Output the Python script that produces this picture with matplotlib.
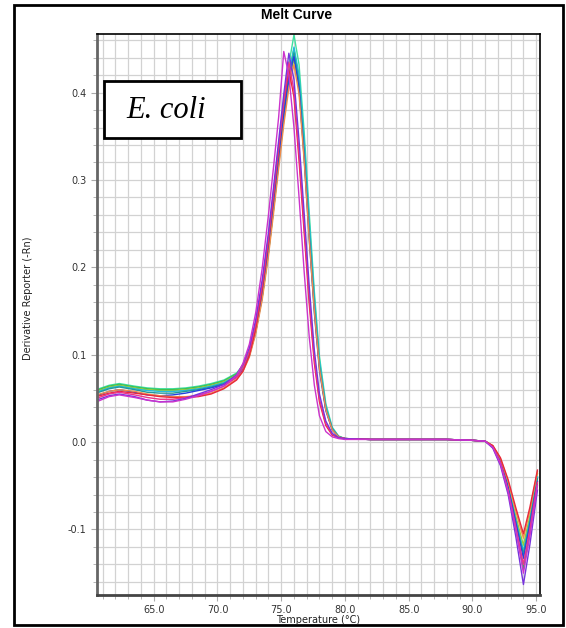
import matplotlib.pyplot as plt
from matplotlib.patches import Rectangle
import numpy as np

# Temperature points shared by all wells (deg C)
temps = [60.5, 61.5, 62.3, 63.5, 64.5, 65.5, 66.5, 67.5, 68.5, 69.5, 70.5, 71.5,
         72.0, 72.5, 73.0, 73.5, 74.0, 74.4, 74.8, 75.2, 75.6, 76.0, 76.4, 76.8,
         77.2, 77.6, 78.0, 78.5, 79.0, 79.5, 80.0, 82.0, 85.0, 88.0, 90.0, 91.0,
         91.6, 92.2, 92.8, 93.4, 94.0, 94.5, 95.1]

# Derivative reporter values, one list per well
aqua = [0.060, 0.065, 0.067, 0.064, 0.062, 0.061, 0.061, 0.062, 0.064, 0.067, 0.071, 0.079,
        0.088, 0.104, 0.132, 0.172, 0.224, 0.276, 0.330, 0.385, 0.432, 0.466, 0.432, 0.355,
        0.262, 0.172, 0.098, 0.044, 0.017, 0.007, 0.004, 0.003, 0.003, 0.003, 0.002, 0.001,
        -0.005, -0.021, -0.050, -0.088, -0.125, -0.090, -0.040]
green = [0.059, 0.064, 0.066, 0.063, 0.061, 0.060, 0.060, 0.061, 0.063, 0.066, 0.070, 0.078,
         0.087, 0.103, 0.131, 0.170, 0.222, 0.273, 0.326, 0.378, 0.423, 0.450, 0.414, 0.336,
         0.243, 0.157, 0.088, 0.039, 0.015, 0.006, 0.004, 0.003, 0.003, 0.003, 0.002, 0.001,
         -0.006, -0.024, -0.056, -0.100, -0.145, -0.103, -0.048]
ygreen = [0.058, 0.063, 0.065, 0.062, 0.060, 0.059, 0.059, 0.060, 0.062, 0.065, 0.069, 0.077,
          0.086, 0.101, 0.128, 0.166, 0.217, 0.266, 0.318, 0.368, 0.412, 0.438, 0.404, 0.328,
          0.237, 0.153, 0.086, 0.038, 0.015, 0.006, 0.004, 0.003, 0.003, 0.003, 0.002, 0.001,
          -0.005, -0.020, -0.048, -0.085, -0.118, -0.085, -0.036]
cyan = [0.057, 0.062, 0.064, 0.061, 0.059, 0.058, 0.058, 0.059, 0.061, 0.064, 0.068, 0.076,
        0.085, 0.100, 0.127, 0.166, 0.218, 0.268, 0.321, 0.373, 0.418, 0.452, 0.420, 0.345,
        0.252, 0.165, 0.093, 0.041, 0.016, 0.006, 0.004, 0.003, 0.003, 0.003, 0.002, 0.001,
        -0.005, -0.021, -0.050, -0.089, -0.125, -0.090, -0.040]
teal = [0.056, 0.061, 0.063, 0.060, 0.057, 0.056, 0.056, 0.058, 0.060, 0.063, 0.067, 0.075,
        0.084, 0.099, 0.126, 0.165, 0.217, 0.267, 0.319, 0.371, 0.416, 0.445, 0.410, 0.332,
        0.240, 0.155, 0.087, 0.038, 0.015, 0.006, 0.004, 0.003, 0.003, 0.003, 0.002, 0.001,
        -0.005, -0.022, -0.052, -0.092, -0.128, -0.092, -0.042]
blue = [0.053, 0.058, 0.060, 0.057, 0.054, 0.053, 0.054, 0.056, 0.059, 0.062, 0.066, 0.074,
        0.083, 0.099, 0.127, 0.167, 0.220, 0.270, 0.322, 0.374, 0.418, 0.441, 0.405, 0.325,
        0.232, 0.148, 0.082, 0.036, 0.014, 0.006, 0.004, 0.003, 0.003, 0.003, 0.002, 0.001,
        -0.005, -0.022, -0.052, -0.092, -0.133, -0.095, -0.045]
orange = [0.054, 0.058, 0.060, 0.058, 0.055, 0.053, 0.052, 0.052, 0.053, 0.056, 0.062, 0.072,
          0.081, 0.097, 0.124, 0.162, 0.213, 0.262, 0.313, 0.363, 0.405, 0.432, 0.398, 0.322,
          0.232, 0.150, 0.084, 0.037, 0.014, 0.006, 0.004, 0.003, 0.003, 0.003, 0.002, 0.001,
          -0.004, -0.019, -0.045, -0.079, -0.110, -0.079, -0.034]
red = [0.052, 0.056, 0.058, 0.056, 0.054, 0.052, 0.051, 0.051, 0.052, 0.055, 0.061, 0.071,
       0.081, 0.099, 0.130, 0.175, 0.230, 0.282, 0.335, 0.388, 0.426, 0.395, 0.322, 0.240,
       0.158, 0.090, 0.046, 0.019, 0.008, 0.005, 0.004, 0.003, 0.003, 0.003, 0.002, 0.001,
       -0.004, -0.018, -0.043, -0.075, -0.105, -0.075, -0.032]
pink = [0.050, 0.055, 0.057, 0.054, 0.051, 0.049, 0.049, 0.051, 0.054, 0.058, 0.064, 0.074,
        0.085, 0.104, 0.136, 0.180, 0.234, 0.286, 0.338, 0.390, 0.435, 0.402, 0.330, 0.248,
        0.165, 0.095, 0.049, 0.021, 0.009, 0.005, 0.004, 0.003, 0.003, 0.003, 0.002, 0.001,
        -0.006, -0.024, -0.055, -0.097, -0.140, -0.100, -0.046]
purple = [0.048, 0.053, 0.055, 0.052, 0.048, 0.046, 0.047, 0.050, 0.055, 0.060, 0.066, 0.077,
          0.089, 0.108, 0.140, 0.185, 0.240, 0.292, 0.345, 0.398, 0.445, 0.415, 0.345, 0.262,
          0.178, 0.105, 0.055, 0.024, 0.010, 0.005, 0.004, 0.003, 0.003, 0.003, 0.002, 0.001,
          -0.007, -0.027, -0.060, -0.108, -0.163, -0.118, -0.055]
magenta = [0.046, 0.052, 0.054, 0.051, 0.048, 0.046, 0.046, 0.049, 0.053, 0.058, 0.064, 0.076,
           0.090, 0.112, 0.148, 0.198, 0.260, 0.315, 0.372, 0.447, 0.420, 0.360, 0.280, 0.195,
           0.120, 0.065, 0.030, 0.012, 0.006, 0.004, 0.003, 0.003, 0.003, 0.003, 0.002, 0.001,
           -0.006, -0.025, -0.057, -0.100, -0.150, -0.108, -0.050]

wells = [aqua, green, ygreen, cyan, teal, blue, orange, red, pink, purple, magenta]
colors = ['#3ee0a0', '#33bb55', '#9acd32', '#22bbdd', '#229999', '#2244dd',
          '#f08c4a', '#e8283c', '#ee3388', '#7733dd', '#cc33cc']

xticks = [65.0, 70.0, 75.0, 80.0, 85.0, 90.0, 95.0]
yticks = [-0.1, 0.0, 0.1, 0.2, 0.3, 0.4]

fig = plt.figure(figsize=(5.66, 6.28), dpi=100)
ax = fig.add_axes([97 / 566, 1 - 595 / 628, 443 / 566, 561 / 628])

for vals, c in zip(wells, colors):
    ax.plot(temps, vals, color=c, lw=1.0)

ax.set_xlim(60.55, 95.3)
ax.set_ylim(-0.175, 0.467)

# ticks + grid
ax.set_xticks(xticks)
ax.set_xticklabels(['%.1f' % t for t in xticks])
ax.set_yticks(yticks)
ax.set_yticklabels(['%.1f' % t for t in yticks])
ax.set_xticks(np.arange(61, 96, 1.0), minor=True)
ax.set_yticks(np.arange(-0.16, 0.47, 0.02), minor=True)
ax.grid(which='both', color='#d2d2d2', lw=0.9)
ax.set_axisbelow(True)
ax.tick_params(which='both', labelsize=7, labelcolor='#333333', color='#aaaaaa')
ax.tick_params(which='major', length=4)
ax.tick_params(which='minor', length=3)

ax.spines['left'].set_color('#666666')
ax.spines['left'].set_linewidth(2)
ax.spines['bottom'].set_color('#444444')
ax.spines['bottom'].set_linewidth(2)
ax.spines['top'].set_linewidth(1.2)
ax.spines['right'].set_linewidth(1.2)

# labels
fig.text(297 / 566, 1 - 15 / 628, 'Melt Curve', ha='center', va='center',
         fontsize=10, fontweight='bold', family='Liberation Sans')
fig.text(28 / 566, 1 - 298 / 628, 'Derivative Reporter (-Rn)', rotation=90,
         ha='center', va='center', fontsize=7, color='#222222')
fig.text(318 / 566, 1 - 620 / 628, 'Temperature (°C)', ha='center', va='center',
         fontsize=7, color='#222222')

# E. coli box
fig.patches.append(Rectangle((104 / 566, 1 - 138 / 628), 137 / 566, 57 / 628,
                             transform=fig.transFigure, fill=True, facecolor='white',
                             edgecolor='black', lw=2, zorder=5))
fig.text(166 / 566, 1 - 111 / 628, 'E. coli', ha='center', va='center',
         fontsize=22, style='italic', family='Liberation Serif', zorder=6)

# outer frame
fig.patches.append(Rectangle((14 / 566, 1 - 625 / 628), 549 / 566, 620 / 628,
                             transform=fig.transFigure, fill=False,
                             edgecolor='black', lw=2))

fig.savefig('out.png', dpi=100)
